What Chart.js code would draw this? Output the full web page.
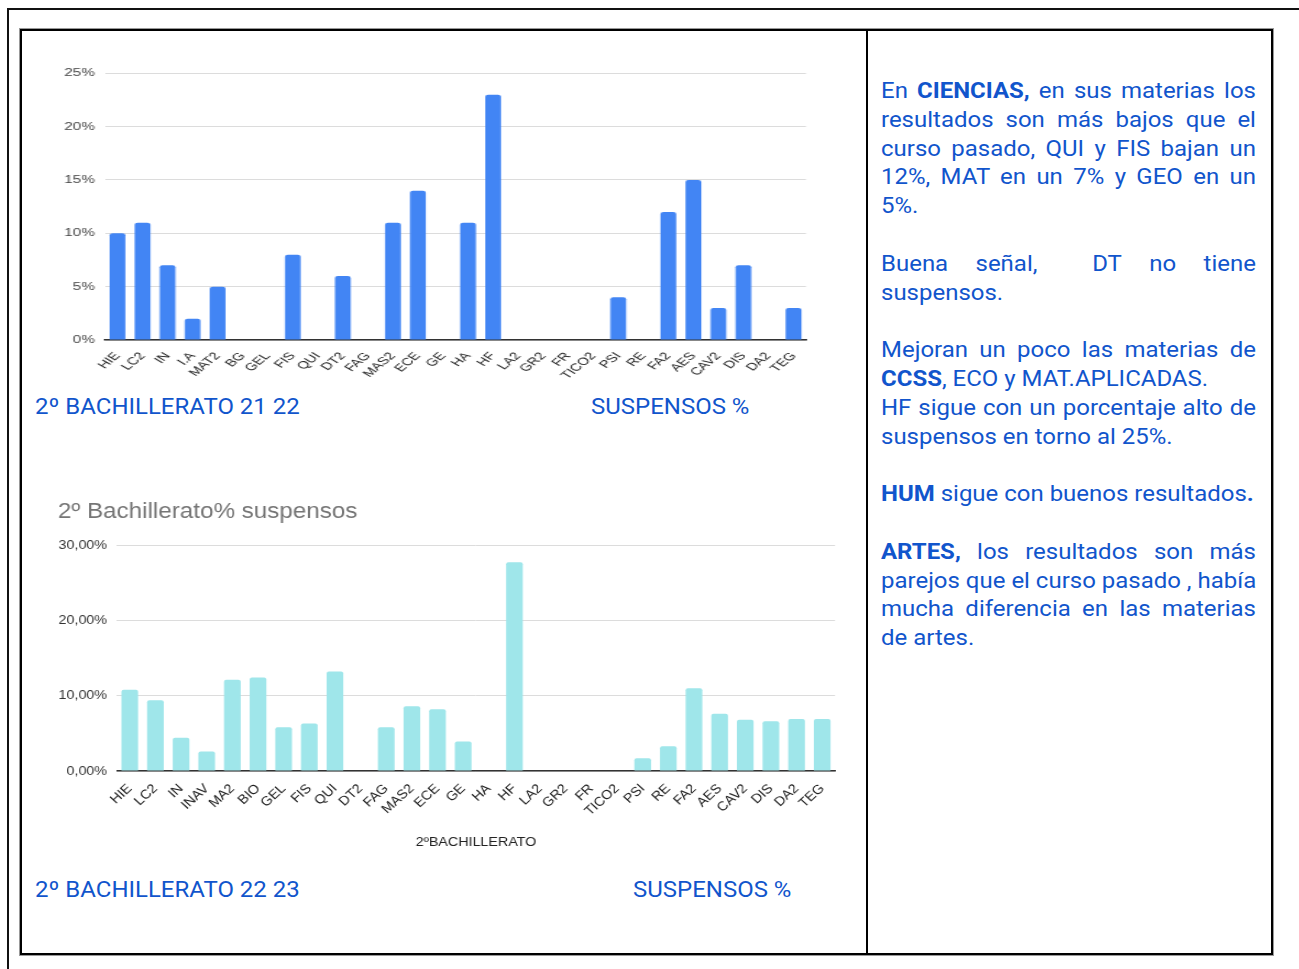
<!DOCTYPE html>
<html>
<head>
<meta charset="utf-8">
<script src="https://cdn.jsdelivr.net/npm/chart.js@4.4.1/dist/chart.umd.min.js"></script>
<style>
  html, body { margin: 0; padding: 0; background: #fff; width: 1299px; height: 969px; overflow: hidden; position: relative; }
  .abs { position: absolute; }
  #outer { left: 7px; top: 8px; width: 1300px; height: 980px; border-top: 2px solid #111; border-left: 2px solid #111; }
  #box { left: 20px; top: 29px; width: 1249px; height: 922px; border: 2px solid #000; box-shadow: 0 0 0 1px #999; }
  #divider { left: 866px; top: 30px; width: 2px; height: 924px; background: #000; }
  .blue { color: #1155cc; font-family: Roboto, "Liberation Sans", Arial, sans-serif; font-size: 22px; line-height: 26px; white-space: nowrap; transform: scaleX(1.09); transform-origin: left top; }
  #notes { left: 881px; top: 77px; width: 344px; color: #1155cc; font-family: Roboto, "Liberation Sans", Arial, sans-serif; font-size: 22px; line-height: 28.8px; transform: scaleX(1.09); transform-origin: left top; }
  #notes > div { white-space: nowrap; height: 28.8px; }
  #notes .j { text-align: justify; text-align-last: justify; }
  #notes .f { display: flex; justify-content: space-between; }
  #notes b { font-weight: 700; }
  .wrap { position: absolute; transform-origin: left top; }
</style>
</head>
<body>
<div id="outer" class="abs"></div>
<div id="box" class="abs"></div>
<div id="divider" class="abs"></div>

<div class="wrap" style="left:40px; top:60px; width:538px; height:320px; transform: scaleX(1.45);"><canvas id="c1"></canvas></div>
<div class="wrap" style="left:45px; top:495px; width:727px; height:362px; transform: scaleX(1.1);"><canvas id="c2"></canvas></div>

<div class="abs blue" style="left:35px; top:394px;">2º BACHILLERATO 21 22</div>
<div class="abs blue" style="left:591px; top:394px;">SUSPENSOS %</div>
<div class="abs blue" style="left:35px; top:877px;">2º BACHILLERATO 22 23</div>
<div class="abs blue" style="left:633px; top:877px;">SUSPENSOS %</div>

<div id="notes" class="abs">
  <div class="j">En <b>CIENCIAS,</b> en sus materias los</div>
  <div class="j">resultados son más bajos que el</div>
  <div class="j">curso pasado, QUI y FIS bajan un</div>
  <div class="j">12%, MAT en un 7% y GEO en un</div>
  <div>5%.</div>
  <div></div>
  <div class="f"><span>Buena</span><span>señal,</span><span></span><span>DT</span><span>no</span><span>tiene</span></div>
  <div>suspensos.</div>
  <div></div>
  <div class="j">Mejoran un poco las materias de</div>
  <div><b>CCSS</b>, ECO y MAT.APLICADAS.</div>
  <div class="j">HF sigue con un porcentaje alto de</div>
  <div>suspensos en torno al 25%.</div>
  <div></div>
  <div><b>HUM</b> sigue con buenos resultados<b>.</b></div>
  <div></div>
  <div class="j"><b>ARTES,</b> los resultados son más</div>
  <div class="j">parejos que el curso pasado , había</div>
  <div class="j">mucha diferencia en las materias</div>
  <div>de artes.</div>
</div>

<script>
// ---- Data: 2º Bachillerato 21/22 ----
const subjects2122 = ["HIE","LC2","IN","I.A","MAT2","BG","GEL","FIS","QUI","DT2","FAG","MAS2","ECE","GE","HA","HF","LA2","GR2","FR","TICO2","PSI","RE","FA2","AES","CAV2","DIS","DA2","TEG"];
const fail2122 = [10, 11, 7, 2, 5, 0, 0, 8, 0, 6, 0, 11, 14, 0, 11, 23, 0, 0, 0, 0, 4, 0, 12, 15, 3, 7, 0, 3];
const ticks2122 = [0, 5, 10, 15, 20, 25];

// ---- Data: 2º Bachillerato 22/23 ----
const subjects2223 = ["HIE","LC2","IN","INAV","MA2","BIO","GEL","FIS","QUI","DT2","FAG","MAS2","ECE","GE","HA","HF","LA2","GR2","FR","TICO2","PSI","RE","FA2","AES","CAV2","DIS","DA2","TEG"];
const fail2223 = [10.8, 9.4, 4.4, 2.6, 12.1, 12.4, 5.8, 6.3, 13.2, 0, 5.8, 8.6, 8.2, 3.9, 0, 27.7, 0, 0, 0, 0, 1.7, 3.3, 11.0, 7.6, 6.8, 6.6, 6.9, 6.9];
const ticks2223 = [0, 10, 20, 30];
const title2223 = "2º Bachillerato% suspensos";
const xTitle2223 = "2ºBACHILLERATO";

const FONT = '"Liberation Sans", Arial, sans-serif';

new Chart(document.getElementById('c1'), {
  type: 'bar',
  data: { labels: subjects2122, datasets: [{ data: fail2122, backgroundColor: '#4285f4', borderRadius: 2, borderSkipped: 'bottom', categoryPercentage: 1, barPercentage: 0.63 }] },
  options: {
    responsive: true, maintainAspectRatio: false, animation: false,
    layout: { padding: { top: 10, right: 9.7, left: 0, bottom: 0 } },
    plugins: { legend: { display: false }, tooltip: { enabled: false } },
    scales: {
      x: {
        grid: { display: false },
        border: { color: '#333', width: 1.5 },
        ticks: { autoSkip: false, minRotation: 50, maxRotation: 50, color: '#222', font: { family: FONT, size: 10.5 }, padding: 2 },
        afterFit: s => { s.height = 40; }
      },
      y: {
        min: 0, max: 25,
        afterBuildTicks: s => { s.ticks = ticks2122.map(v => ({ value: v })); },
        grid: { color: '#dcdcdc', drawTicks: false, lineWidth: 1 },
        border: { display: false },
        ticks: { color: '#444', font: { family: FONT, size: 10.5 }, padding: 7, callback: v => v + '%' },
        afterFit: s => { s.width = 44.8; }
      }
    }
  }
});

new Chart(document.getElementById('c2'), {
  type: 'bar',
  data: { labels: subjects2223, datasets: [{ data: fail2223, backgroundColor: '#9fe6ea', borderRadius: 2, borderSkipped: 'bottom', categoryPercentage: 1, barPercentage: 0.65 }] },
  options: {
    responsive: true, maintainAspectRatio: false, animation: false,
    layout: { padding: { top: 3.6, right: 8.8, left: 11.8, bottom: 0 } },
    plugins: {
      legend: { display: false }, tooltip: { enabled: false },
      title: { display: true, text: title2223, align: 'start', color: '#757575', font: { family: FONT, size: 22, weight: 'normal' }, padding: { top: 0, bottom: 20 } }
    },
    scales: {
      x: {
        grid: { display: false },
        border: { color: '#333', width: 1.5 },
        ticks: { autoSkip: false, minRotation: 45, maxRotation: 45, color: '#222', font: { family: FONT, size: 13 }, padding: 2 },
        title: { display: true, text: xTitle2223, color: '#222', font: { family: FONT, size: 13 }, padding: { top: 0, bottom: 7 } },
        afterFit: s => { s.height = 86; }
      },
      y: {
        min: 0, max: 30,
        afterBuildTicks: s => { s.ticks = ticks2223.map(v => ({ value: v })); },
        grid: { color: '#dcdcdc', drawTicks: false, lineWidth: 1 },
        border: { display: false },
        ticks: { color: '#333', font: { family: FONT, size: 13 }, padding: 9, callback: v => v.toFixed(2).replace('.', ',') + '%' },
        afterFit: s => { s.width = 53.6; }
      }
    }
  }
});
</script>
</body>
</html>
